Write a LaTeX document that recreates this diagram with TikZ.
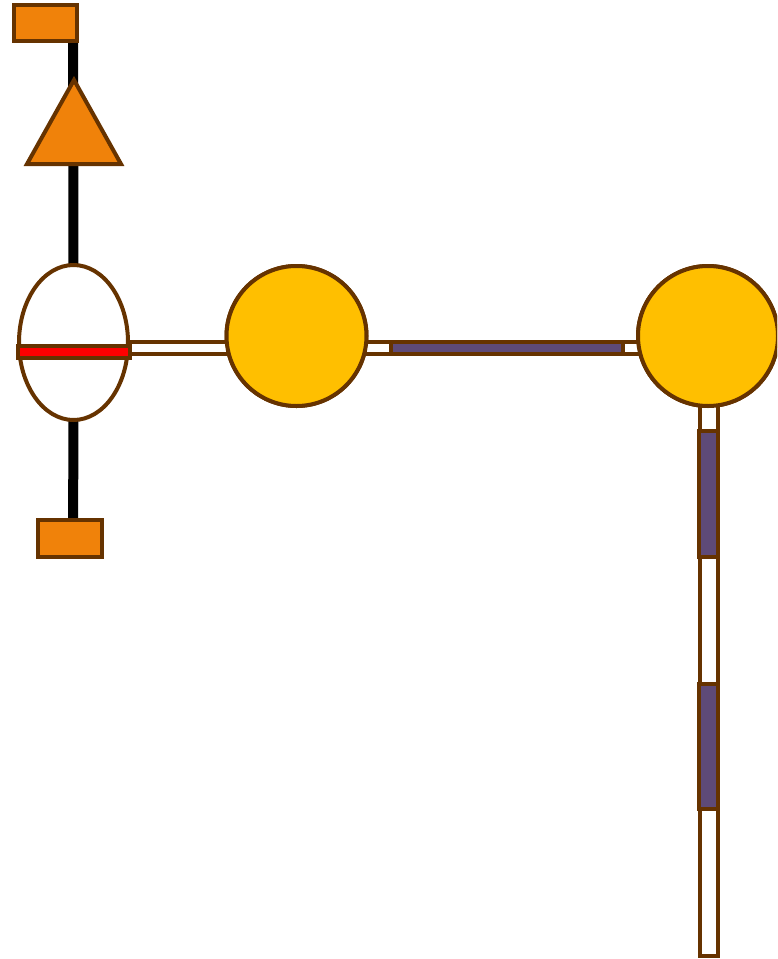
\documentclass[tikz,border=0pt]{standalone}
\usetikzlibrary{shapes.geometric}
\definecolor{edgebrown}{HTML}{663300}
\definecolor{boxorange}{HTML}{F0820A}
\definecolor{discyellow}{HTML}{FFBF00}
\definecolor{barpurple}{HTML}{5E4A78}
\definecolor{markred}{HTML}{FF0000}
\tikzset{
  outl/.style={draw=edgebrown, line width=4pt},
  orangebox/.style={outl, fill=boxorange, rectangle, inner sep=0pt},
  disc/.style={outl, fill=discyellow, circle, inner sep=0pt, minimum size=140pt},
  stem/.style={draw=black, line width=10pt},
  hollowbar/.style={outl, fill=white},
  filledbar/.style={outl, fill=barpurple},
}
\begin{document}
\begin{tikzpicture}[x=1pt, y=-1pt]
\useasboundingbox (0,0) rectangle (777,959);
\clip (0,0) rectangle (777,959);

% named parts
\node[draw=none, ellipse, minimum width=109pt, minimum height=155pt, inner sep=0pt] (ell) at (73.5,342.5) {};
\coordinate (stemtop) at (73,23);
\coordinate (stembot) at (73,538);
\coordinate (tri) at (74,122);
\node[disc] (c1) at (296.5,336) {};
\node[disc] (c2) at (708,336) {};

% black stem behind everything
\draw[stem] (stemtop) -- (ell.north);
\draw[stem] (ell.south) -- (stembot);

% boxes at the stem ends
\node[orangebox, minimum width=63pt, minimum height=36pt] (topbox) at (45.5,23) {};
\node[orangebox, minimum width=64pt, minimum height=37pt] (botbox) at (70,538.5) {};

% triangle on the stem (apex up)
\draw[outl, fill=boxorange, line join=miter] ([yshift=42]tri) -- ([xshift=47,yshift=-42]tri) -- ([xshift=-47,yshift=-42]tri) -- cycle;

% bars between the parts
\draw[hollowbar] (125,342) rectangle (240,354);
\draw[hollowbar] (350,342) rectangle (650,354);
\draw[filledbar] (390.5,342) rectangle (622.5,354);
\draw[hollowbar] (699.5,395) rectangle (717.5,956);
\draw[filledbar] (699,431) rectangle (718,557);
\draw[filledbar] (699,684) rectangle (718,809);

% ellipse with the red marker
\draw[outl, fill=white] (ell.center) ellipse [x radius=54.5pt, y radius=77.5pt];
\draw[outl, fill=markred] (17.5,346) rectangle (129.5,358);

% discs
\node[disc] at (c1) {};
\node[disc] at (c2) {};
\end{tikzpicture}
\end{document}
